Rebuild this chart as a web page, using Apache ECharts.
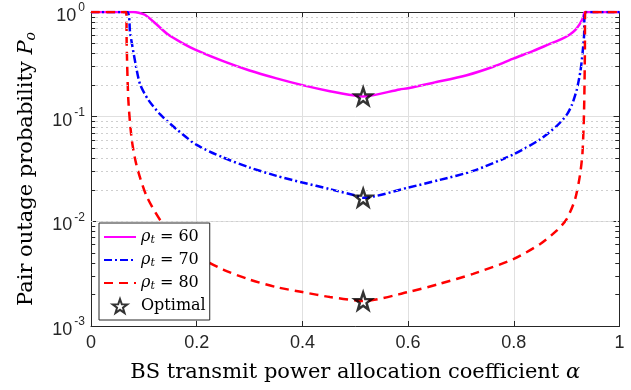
<!DOCTYPE html>
<html>
<head>
<meta charset="utf-8">
<script src="https://cdn.jsdelivr.net/npm/echarts@6/dist/echarts.min.js"></script>
<style>html,body{margin:0;padding:0;background:#fff}#c{width:631px;height:390px}</style>
</head>
<body>
<div id="c"></div>
<script>
// ---- data (alpha, outage probability) ----
const rho60 = [[0,1],[0.08,1],[0.09,0.985],[0.102,0.94],[0.121,0.786],[0.146,0.608],[0.172,0.507],[0.197,0.437],[0.25,0.339],[0.3,0.276],[0.351,0.232],[0.4,0.2],[0.452,0.175],[0.503,0.158],[0.515,0.156],[0.584,0.182],[0.6,0.187],[0.648,0.211],[0.711,0.249],[0.761,0.3],[0.8,0.36],[0.837,0.425],[0.868,0.495],[0.89,0.55],[0.906,0.61],[0.917,0.68],[0.925,0.77],[0.931,0.88],[0.935,1],[1,1]];
const rho70 = [[0,1],[0.068,1],[0.074,0.63],[0.0845,0.315],[0.093,0.203],[0.108,0.146],[0.131,0.105],[0.162,0.0757],[0.2,0.0537],[0.25,0.0407],[0.3,0.0327],[0.351,0.0272],[0.4,0.0235],[0.452,0.0203],[0.503,0.0175],[0.515,0.0168],[0.6,0.021],[0.66,0.0249],[0.723,0.0303],[0.8,0.0438],[0.85,0.0608],[0.881,0.0813],[0.9,0.104],[0.91,0.13],[0.919,0.18],[0.926,0.27],[0.93,0.4],[0.933,0.6],[0.9345,1],[1,1]];
const rho80 = [[0,1],[0.0665,1],[0.0675,0.5],[0.0706,0.146],[0.077,0.0608],[0.0864,0.0339],[0.105,0.0175],[0.134,0.00977],[0.175,0.00586],[0.2,0.0047],[0.25,0.00346],[0.3,0.00278],[0.351,0.00235],[0.4,0.00211],[0.452,0.00189],[0.503,0.00175],[0.515,0.00173],[0.6,0.00211],[0.66,0.00253],[0.723,0.00315],[0.8,0.00437],[0.85,0.00608],[0.881,0.00814],[0.9,0.0105],[0.916,0.0163],[0.925,0.0272],[0.93,0.0454],[0.933,0.117],[0.9345,0.4],[0.935,1],[1,1]];
const optimal = [[0.515,0.156],[0.515,0.0168],[0.515,0.00173]];
const legendLabels = {rho60:'60', rho70:'70', rho80:'80'};
const minorY = [0.002,0.003,0.004,0.005,0.006,0.007,0.008,0.009,0.02,0.03,0.04,0.05,0.06,0.07,0.08,0.09,0.2,0.3,0.4,0.5,0.6,0.7,0.8,0.9];

const serif = 'DejaVu Serif';
const sans = 'Liberation Sans';
const axisCol = '#262626';
const star = 'path://M0,-10L2.35,-3.24L9.51,-3.09L3.8,1.24L5.88,8.09L0,4L-5.88,8.09L-3.8,1.24L-9.51,-3.09L-2.35,-3.24Z';

const minorLines = minorY.map(v => ({yAxis: v}));
const minorTicks = [];
minorY.forEach(v => {
  minorTicks.push([{coord:[0,v]},{coord:[0.008,v]}]);
  minorTicks.push([{coord:[0.992,v]},{coord:[1,v]}]);
});

const hideSym = {color:'rgba(0,0,0,0)', borderWidth:0, opacity:0};

const chart = echarts.init(document.getElementById('c'), null, {renderer:'canvas'});
chart.setOption({
  animation:false,
  backgroundColor:'#fff',
  grid:{left:91, right:11.5, top:12, bottom:64, containLabel:false},
  xAxis:[{
    type:'value', min:0, max:1, interval:0.2,
    axisLine:{lineStyle:{color:axisCol, width:1}},
    axisTick:{inside:true, length:5, lineStyle:{color:axisCol}},
    axisLabel:{color:axisCol, fontFamily:sans, fontSize:18, margin:8,
      formatter:v => (v===0||v===1) ? String(v) : v.toFixed(1)},
    splitLine:{show:true, lineStyle:{color:'#e0e0e0', width:1}},
    name:'BS transmit power allocation coefficient {i|α}',
    nameLocation:'middle', nameGap:36,
    nameTextStyle:{fontFamily:serif, fontSize:21, color:'#000',
      rich:{i:{fontFamily:serif, fontStyle:'italic', fontSize:21, color:'#000'}}}
  },{
    type:'value', min:0, max:1, interval:0.2, position:'top',
    axisLine:{show:true, onZero:false, lineStyle:{color:axisCol, width:1}},
    axisTick:{show:true, inside:true, length:5, lineStyle:{color:axisCol}},
    axisLabel:{show:false}, splitLine:{show:false}
  }],
  yAxis:[{
    type:'log', logBase:10, min:0.001, max:1,
    axisLine:{show:true, lineStyle:{color:axisCol, width:1}},
    axisTick:{show:true, inside:true, length:6, lineStyle:{color:axisCol}},
    axisLabel:{color:axisCol, margin:6,
      formatter:v => '{b|10}{e|' + Math.round(Math.log10(v)) + '}',
      rich:{b:{fontFamily:sans, fontSize:18, color:axisCol, padding:[8,0,0,0]},
            e:{fontFamily:sans, fontSize:12, color:axisCol, padding:[0,0,8,2]}}},
    splitLine:{show:true, lineStyle:{color:'#e0e0e0', width:1}},
    name:'{n|Pair outage probability }{i|P}{s|o}',
    nameLocation:'middle', nameRotate:90, nameGap:53,
    nameTextStyle:{rich:{
      n:{fontFamily:serif, fontSize:21, color:'#000'},
      i:{fontFamily:serif, fontStyle:'italic', fontSize:21, color:'#000'},
      s:{fontFamily:serif, fontStyle:'italic', fontSize:14, color:'#000', padding:[9,0,0,0]}}}
  },{
    type:'log', logBase:10, min:0.001, max:1, position:'right',
    axisLine:{show:true, onZero:false, lineStyle:{color:axisCol, width:1}},
    axisTick:{show:true, inside:true, length:6, lineStyle:{color:axisCol}},
    axisLabel:{show:false}, splitLine:{show:false}
  }],
  legend:{
    left:99, top:223, orient:'vertical', itemGap:6, itemWidth:32, itemHeight:14,
    padding:[6,4,6,4],
    backgroundColor:'#fff', borderColor:axisCol, borderWidth:1, borderRadius:0,
    data:[
      {name:'rho60', itemStyle:hideSym},
      {name:'rho70', itemStyle:hideSym},
      {name:'rho80', itemStyle:hideSym},
      {name:'Optimal'}
    ],
    formatter:n => n==='Optimal' ? '{o|Optimal}' : '{i|ρ}{s|t}{o| = ' + legendLabels[n] + '}',
    textStyle:{rich:{
      o:{fontFamily:serif, fontSize:16, color:'#000', lineHeight:19},
      i:{fontFamily:serif, fontStyle:'italic', fontSize:16, color:'#000', lineHeight:19},
      s:{fontFamily:serif, fontStyle:'italic', fontSize:11, color:'#000', padding:[7,0,0,0]}}}
  },
  series:[
    {name:'minor', type:'line', data:[], silent:true,
     markLine:{silent:true, symbol:'none', label:{show:false},
       lineStyle:{color:'#cfcfcf', type:[2,3], width:1}, data:minorLines}},
    {name:'minorTicks', type:'line', data:[], silent:true,
     markLine:{silent:true, symbol:'none', label:{show:false},
       lineStyle:{color:axisCol, type:'solid', width:1}, data:minorTicks}},
    {name:'rho60', type:'line', data:rho60, symbol:'none', smooth:0.25,
     lineStyle:{color:'#ff00ff', width:2.5}, itemStyle:{color:'#ff00ff'}, z:3},
    {name:'rho70', type:'line', data:rho70, symbol:'none', smooth:0.25,
     lineStyle:{color:'#0000ff', width:2.5, type:[8,3,2,3]}, itemStyle:{color:'#0000ff'}, z:3},
    {name:'rho80', type:'line', data:rho80, symbol:'none', smooth:0.25,
     lineStyle:{color:'#ff0000', width:2.5, type:[9,6]}, itemStyle:{color:'#ff0000'}, z:3},
    {name:'Optimal', type:'scatter', data:optimal, symbol:star, symbolSize:17,
     itemStyle:{color:'rgba(255,255,255,0)', borderColor:'#000', borderWidth:2.5}, z:5}
  ]
});
</script>
</body>
</html>
